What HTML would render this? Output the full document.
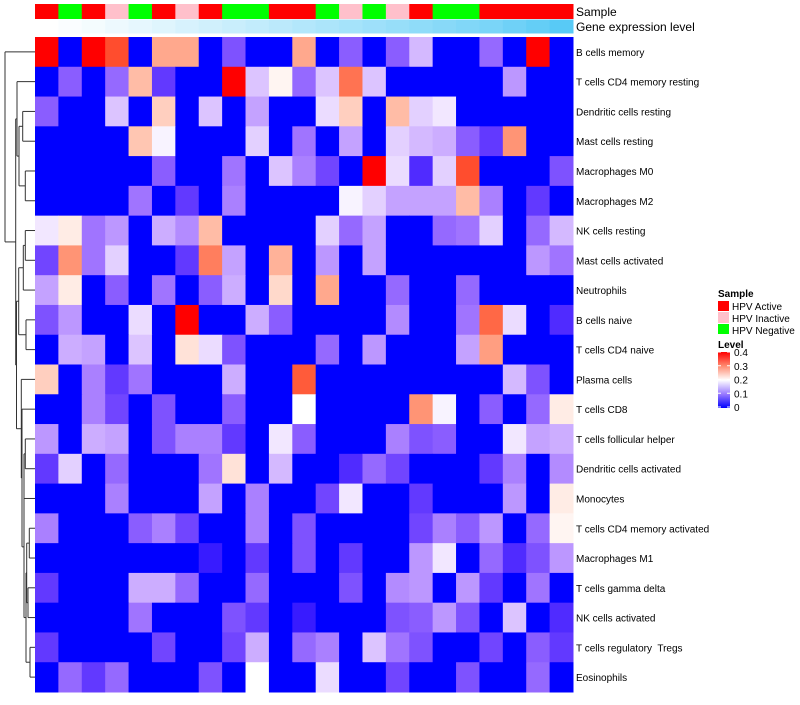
<!DOCTYPE html>
<html><head><meta charset="utf-8"><style>
body{margin:0;background:#fff;width:800px;height:700px;overflow:hidden}
svg text{font-family:"Liberation Sans",sans-serif}
</style></head><body>
<svg id="chart" width="800" height="700" xmlns="http://www.w3.org/2000/svg">
<g id="dendro"></g>
<g id="anno"></g>
<g id="cells"></g>
<g id="labels"></g>
<text x="576" y="16" font-size="12">Sample</text>
<text x="576" y="31" font-size="12">Gene expression level</text>
<g>
<text x="718" y="297" font-size="10" font-weight="bold">Sample</text>
<rect x="718" y="301" width="11" height="10" fill="#FF0000"/>
<text x="732" y="310" font-size="10">HPV Active</text>
<rect x="718" y="312" width="11" height="11" fill="#FFC0CB"/>
<text x="732" y="322" font-size="10">HPV Inactive</text>
<rect x="718" y="324" width="11" height="10" fill="#00FF00"/>
<text x="732" y="334" font-size="10">HPV Negative</text>
<text x="718" y="348" font-size="10" font-weight="bold">Level</text>
<defs><linearGradient id="lg" x1="0" y1="1" x2="0" y2="0">
<stop offset="0" stop-color="#0000FF"/><stop offset="0.25" stop-color="#9A7BFF"/><stop offset="0.5" stop-color="#FFFFFF"/><stop offset="0.75" stop-color="#FF8A70"/><stop offset="1" stop-color="#FF0000"/></linearGradient></defs>
<rect x="718" y="352" width="12" height="56" fill="url(#lg)"/>
<g id="legTicks"></g>
</g>
</svg>
<script>
const rowNames=["B cells memory","T cells CD4 memory resting","Dendritic cells resting","Mast cells resting","Macrophages M0","Macrophages M2","NK cells resting","Mast cells activated","Neutrophils","B cells naive","T cells CD4 naive","Plasma cells","T cells CD8","T cells follicular helper","Dendritic cells activated","Monocytes","T cells CD4 memory activated","Macrophages M1","T cells gamma delta","NK cells activated","T cells regulatory  Tregs","Eosinophils"];
const sampleGroups=["A","N","A","I","N","A","I","A","N","N","A","A","N","I","N","I","A","N","N","A","A","A","A"];
const geneLevel=[0,0.03,0.06,0.1,0.14,0.18,0.22,0.26,0.3,0.34,0.38,0.42,0.46,0.5,0.54,0.58,0.62,0.66,0.7,0.74,0.8,0.86,0.93];
const levelTicks=[0,0.1,0.2,0.3,0.4];
const r1=[0.4,0,0.4,0.37,0,0.29,0.29,0,0.05,0,0,0.29,0,0.06,0,0.06,0.14,0,0,0.07,0,0.4,0];
const r2=[0,0.06,0,0.07,0.27,0.03,0,0,0.4,0.15,0.21,0.07,0.15,0.34,0.15,0,0,0,0,0,0.11,0,0];
const r3=[0.06,0,0,0.15,0,0.25,0,0.15,0,0.12,0,0,0.17,0.25,0,0.27,0.16,0.18,0,0,0,0,0];
const r4=[0,0,0,0,0.26,0.19,0,0,0,0.16,0,0.08,0,0.12,0,0.16,0.14,0.13,0.06,0.03,0.31,0,0];
const r5=[0,0,0,0,0,0.06,0,0,0.08,0,0.15,0.09,0.04,0,0.4,0.17,0.02,0.16,0.37,0,0,0,0.05];
const r6=[0,0,0,0,0.08,0,0.03,0,0.09,0,0,0,0,0.19,0.16,0.12,0.12,0.12,0.27,0.09,0,0.03,0];
const r7=[0.18,0.22,0.08,0.11,0,0.13,0.1,0.27,0,0,0,0,0.16,0.07,0.12,0,0,0.07,0.08,0.16,0,0.07,0.14];
const r8=[0.04,0.31,0.08,0.16,0,0,0.03,0.33,0.12,0,0.28,0,0.11,0,0.12,0,0,0,0,0,0,0.11,0.08];
const r9=[0.12,0.22,0,0.06,0,0.08,0,0.06,0.13,0,0.24,0,0.29,0,0,0.07,0,0,0.07,0,0,0,0];
const r10=[0.05,0.11,0,0,0.17,0,0.4,0,0,0.13,0.06,0,0,0,0,0.1,0,0,0.08,0.35,0.17,0,0.02];
const r11=[0,0.13,0.12,0,0.15,0,0.23,0.17,0.05,0,0,0,0.07,0,0.11,0,0,0,0.12,0.3,0,0,0];
const r12=[0.25,0,0.09,0.03,0.08,0,0,0,0.13,0,0,0.36,0,0,0,0,0,0,0,0,0.14,0.05,0];
const r13=[0,0,0.09,0.04,0,0.05,0,0,0.06,0,0,0.2,0,0,0,0,0.31,0.19,0,0.06,0,0.07,0.22];
const r14=[0.11,0,0.13,0.12,0,0.05,0.09,0.09,0.03,0,0.18,0.06,0,0,0,0.09,0.05,0.06,0,0,0.18,0.12,0.13];
const r15=[0.03,0.16,0,0.07,0,0,0,0.08,0.23,0,0.14,0,0,0.02,0.07,0.04,0,0,0,0.03,0.09,0,0.1];
const r16=[0,0,0,0.09,0,0,0,0.12,0,0.09,0,0,0.04,0.18,0,0,0.03,0,0,0,0.11,0,0.22];
const r17=[0.09,0,0,0,0.06,0.09,0.04,0,0,0.09,0,0.05,0,0,0,0,0.04,0.09,0.06,0.11,0,0.07,0.21];
const r18=[0,0,0,0,0,0,0,0.01,0,0.03,0,0.05,0,0.03,0,0,0.11,0.18,0,0.07,0.02,0.05,0.11];
const r19=[0.03,0,0,0,0.13,0.13,0.07,0,0,0.07,0,0,0,0.05,0,0.1,0.11,0,0.11,0.03,0,0.08,0];
const r20=[0,0,0,0,0.08,0,0,0,0.05,0.03,0,0.01,0,0,0,0.05,0.06,0.11,0.05,0,0.15,0,0.02];
const r21=[0.03,0,0,0,0,0.04,0,0,0.04,0.13,0,0.07,0.09,0,0.15,0.08,0.05,0,0,0.04,0,0.06,0.03];
const r22=[0,0.07,0.03,0.07,0,0,0,0.05,0,0.2,0,0,0.17,0,0,0.04,0,0,0.05,0,0,0.07,0];
const values=[r1,r2,r3,r4,r5,r6,r7,r8,r9,r10,r11,r12,r13,r14,r15,r16,r17,r18,r19,r20,r21,r22];

const NS="http://www.w3.org/2000/svg";
const X0=35,X1=573,Y0=37,Y1=692;
const nCol=sampleGroups.length,nRow=rowNames.length;
const cw=(X1-X0)/nCol,rh=(Y1-Y0)/nRow;
const xPos=i=>X0+i*cw, yPos=j=>Y0+j*rh;
function mk(t,a,p){const e=document.createElementNS(NS,t);for(const k in a)e.setAttribute(k,a[k]);p.appendChild(e);return e;}
function toLin(c){c/=255;return c<=0.04045?c/12.92:Math.pow((c+0.055)/1.055,2.4);}
function fromLin(c){c=c<=0.0031308?12.92*c:1.055*Math.pow(c,1/2.4)-0.055;return Math.max(0,Math.min(255,Math.round(c*255)));}
function f(t){return t>0.008856?Math.cbrt(t):7.787*t+16/116;}
function fi(t){return t>0.206893?t*t*t:(t-16/116)/7.787;}
function rgb2lab(r,g,b){r=toLin(r);g=toLin(g);b=toLin(b);
 let X=(r*0.4124+g*0.3576+b*0.1805)/0.95047,Y=r*0.2126+g*0.7152+b*0.0722,Z=(r*0.0193+g*0.1192+b*0.9505)/1.08883;
 return [116*f(Y)-16,500*(f(X)-f(Y)),200*(f(Y)-f(Z))];}
function lab2rgb(L,a,b){let fy=(L+16)/116,fx=fy+a/500,fz=fy-b/200;
 let X=fi(fx)*0.95047,Y=fi(fy),Z=fi(fz)*1.08883;
 let r=X*3.2406+Y*-1.5372+Z*-0.4986,g=X*-0.9689+Y*1.8758+Z*0.0415,bb=X*0.0557+Y*-0.204+Z*1.057;
 return `rgb(${fromLin(r)},${fromLin(g)},${fromLin(bb)})`;}
const B=rgb2lab(0,0,255),W=rgb2lab(255,255,255),R=rgb2lab(255,0,0);
function col(v){v=Math.max(0,Math.min(0.4,v));let a,b,t;
 if(v<=0.2){a=B;b=W;t=v/0.2;}else{a=W;b=R;t=(v-0.2)/0.2;}
 return lab2rgb(a[0]+(b[0]-a[0])*t,a[1]+(b[1]-a[1])*t,a[2]+(b[2]-a[2])*t);}
const sampleColor={A:"#FF0000",I:"#FFC0CB",N:"#00FF00"};
function geneCol(t){const r=Math.round(255+(75-255)*t),g=Math.round(255+(198-255)*t),b=Math.round(255+(245-255)*t);return `rgb(${r},${g},${b})`;}

const cells=document.getElementById('cells');
values.forEach((row,j)=>row.forEach((v,i)=>{
 const r=mk('rect',{x:xPos(i),y:yPos(j),width:cw+0.5,height:rh+0.5,fill:col(v)},cells);
 
 
}));
const anno=document.getElementById('anno');
sampleGroups.forEach((s,i)=>{
 const r=mk('rect',{x:xPos(i),y:4,width:cw+0.5,height:15,fill:sampleColor[s]},anno);
 
 
});
geneLevel.forEach((g,i)=>{
 const r=mk('rect',{x:xPos(i),y:19.5,width:cw+0.5,height:14,fill:geneCol(g)},anno);
 
 
});
const labels=document.getElementById('labels');
rowNames.forEach((n,j)=>{
 const t=mk('text',{x:576,y:yPos(j)+rh/2+4,'font-size':10,fill:'#000'},labels);
 t.setAttributeNS("http://www.w3.org/XML/1998/namespace","xml:space","preserve");
 t.style.whiteSpace='pre';
 t.textContent=n;
 
 
});
const lt=document.getElementById('legTicks');
levelTicks.forEach(v=>{
 const y=407-(v/0.4)*55;
 const t=mk('text',{x:734,y:y+4,'font-size':10},lt);
 t.textContent=v===0?"0":String(v);
 
 
 mk('line',{x1:718,x2:721,y1:y,y2:y,stroke:'#fff','stroke-width':1},lt);
 mk('line',{x1:727,x2:730,y1:y,y2:y,stroke:'#fff','stroke-width':1},lt);
});
const n34=[2,3,22.7],n56=[4,5,25.3],n3456=[n34,n56,19],nB=[1,n3456,17];
const n78=[6,7,25.3],n789=[n78,8,23.3],n1011=[9,10,26],n711=[n789,n1011,18.7];
const n1415=[13,14,25.3],n1416=[n1415,15,24],n1718=[16,17,29.3],n1920=[18,19,28],n1720=[n1718,n1920,26.7],n2122=[20,21,30],n1722=[n1720,n2122,26],n1422=[n1416,n1722,24],n1322=[12,n1422,22],n1222=[11,n1322,21.3],n722=[n711,n1222,16.5],nA=[nB,n722,15.7],root=[0,nA,5];
const dg=document.getElementById('dendro');
function draw(n){
 if(typeof n==='number')return {x:X0,y:yPos(n)+rh/2};
 const a=draw(n[0]),b=draw(n[1]),x=n[2];
 mk('line',{x1:x,x2:x,y1:a.y,y2:b.y,stroke:'#333','stroke-width':1},dg);
 mk('line',{x1:x,x2:a.x,y1:a.y,y2:a.y,stroke:'#333','stroke-width':1},dg);
 mk('line',{x1:x,x2:b.x,y1:b.y,y2:b.y,stroke:'#333','stroke-width':1},dg);
 return {x:x,y:(a.y+b.y)/2};
}
draw(root);
</script>
</body></html>
